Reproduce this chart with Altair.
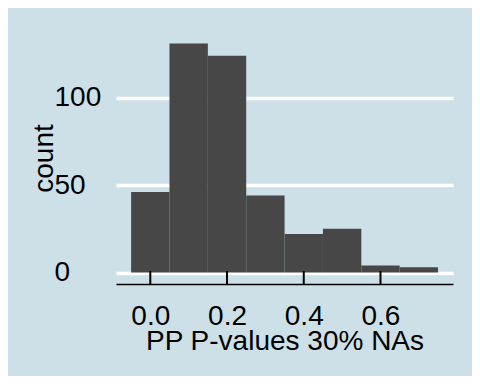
import altair as alt
import pandas as pd

bin_start = [-0.05, 0.05, 0.15, 0.25, 0.35, 0.45, 0.55, 0.65]
bin_end = [0.05, 0.15, 0.25, 0.35, 0.45, 0.55, 0.65, 0.75]
counts = [46, 131, 124, 44, 22, 25, 4, 3]
x_ticks = [0.0, 0.2, 0.4, 0.6]
y_ticks = [0, 50, 100]

BG = "#cde0e7"
FONT = "Liberation Sans"

bars_df = pd.DataFrame({"start": bin_start, "end": bin_end, "count": counts})
ticks_df = pd.DataFrame({"t": x_ticks})

W, H = 337, 252

x_scale = alt.Scale(domain=[-0.0894, 0.789], nice=False, zero=False)
y_scale = alt.Scale(domain=[-6.55, 137.55], nice=False, zero=False)

bars = alt.Chart(bars_df).mark_rect(color="#474747").encode(
    x=alt.X("start:Q", scale=x_scale,
            axis=alt.Axis(values=x_ticks, format=".1f", title="PP P-values 30% NAs",
                          grid=False, ticks=False, tickSize=0, domain=True,
                          domainColor="black", domainWidth=1.5,
                          labelFontSize=28, labelColor="black", labelFont=FONT,
                          labelBaseline="alphabetic", labelPadding=40,
                          titleFontSize=28, titleColor="black", titleFont=FONT,
                          titleFontWeight="normal", titleBaseline="alphabetic",
                          titleX=W / 2, titleY=65, titleAlign="center")),
    x2="end:Q",
    y=alt.Y("count:Q", scale=y_scale,
            axis=alt.Axis(values=y_ticks, title="count", grid=True,
                          gridColor="white", gridWidth=3.5, gridOpacity=1,
                          ticks=False, tickSize=0, domain=False,
                          labelFontSize=28, labelColor="black", labelFont=FONT,
                          labelAlign="left", labelBaseline="middle", labelPadding=62,
                          titleFontSize=28, titleColor="black", titleFont=FONT,
                          titleFontWeight="normal", titleAngle=270,
                          titleBaseline="alphabetic", titleAlign="center",
                          titleX=-63.3, titleY=H / 2)),
    y2=alt.datum(0),
)

tick_marks = alt.Chart(ticks_df).mark_rule(color="black", strokeWidth=2).encode(
    x=alt.X("t:Q", scale=x_scale),
    y=alt.value(H - 13),
    y2=alt.value(H),
)

chart = alt.layer(bars, tick_marks).properties(
    width=W, height=H,
    autosize=alt.AutoSizeParams(type="none"),
    padding={"left": 108, "top": 24, "right": 19, "bottom": 92},
    background=BG,
).configure_view(fill=BG, stroke=None)

chart.save("out.html", embed_options={"renderer": "svg", "actions": False})
